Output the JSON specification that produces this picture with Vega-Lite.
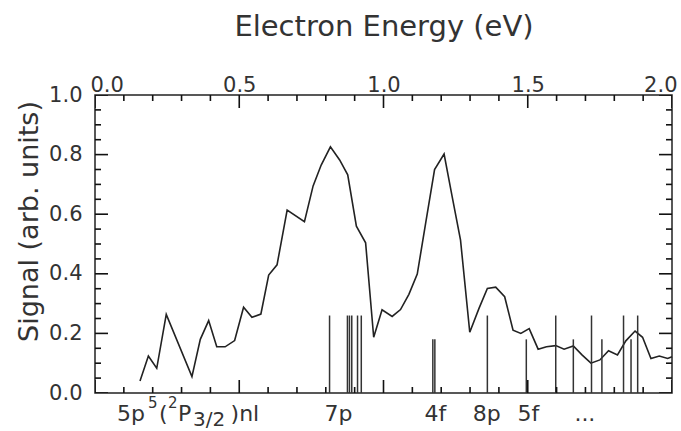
{
  "$schema": "https://vega.github.io/schema/vega-lite/v6.json",
  "width": 577,
  "height": 298,
  "autosize": {"type": "none"},
  "padding": {"left": 95, "top": 95, "right": 9, "bottom": 38},
  "background": "white",
  "config": {
    "view": {"stroke": "#222", "strokeWidth": 1.5},
    "axis": {"domain": false, "ticks": false, "grid": false, "labelColor": "#333", "labelFont": "DejaVu Sans", "titleFont": "DejaVu Sans", "titleColor": "#333", "titleFontWeight": "normal"},
    "text": {"font": "DejaVu Sans", "color": "#333"}
  },
  "datasets": {
    "signal": [
      {"energy": 0.156, "signal": 0.04}, {"energy": 0.185, "signal": 0.124}, {"energy": 0.214, "signal": 0.083},
      {"energy": 0.247, "signal": 0.264}, {"energy": 0.336, "signal": 0.055}, {"energy": 0.365, "signal": 0.18},
      {"energy": 0.394, "signal": 0.243}, {"energy": 0.422, "signal": 0.155}, {"energy": 0.451, "signal": 0.155},
      {"energy": 0.484, "signal": 0.176}, {"energy": 0.515, "signal": 0.288}, {"energy": 0.544, "signal": 0.254},
      {"energy": 0.575, "signal": 0.265}, {"energy": 0.602, "signal": 0.396}, {"energy": 0.631, "signal": 0.43},
      {"energy": 0.666, "signal": 0.614}, {"energy": 0.726, "signal": 0.575}, {"energy": 0.756, "signal": 0.695},
      {"energy": 0.784, "signal": 0.765}, {"energy": 0.816, "signal": 0.826}, {"energy": 0.848, "signal": 0.782},
      {"energy": 0.876, "signal": 0.732}, {"energy": 0.906, "signal": 0.56}, {"energy": 0.938, "signal": 0.504},
      {"energy": 0.966, "signal": 0.187}, {"energy": 0.995, "signal": 0.279}, {"energy": 1.03, "signal": 0.257},
      {"energy": 1.059, "signal": 0.28}, {"energy": 1.088, "signal": 0.331}, {"energy": 1.117, "signal": 0.399},
      {"energy": 1.146, "signal": 0.569}, {"energy": 1.177, "signal": 0.75}, {"energy": 1.21, "signal": 0.802},
      {"energy": 1.238, "signal": 0.659}, {"energy": 1.267, "signal": 0.513}, {"energy": 1.299, "signal": 0.204},
      {"energy": 1.331, "signal": 0.284}, {"energy": 1.36, "signal": 0.351}, {"energy": 1.389, "signal": 0.355},
      {"energy": 1.42, "signal": 0.323}, {"energy": 1.449, "signal": 0.211}, {"energy": 1.476, "signal": 0.2},
      {"energy": 1.505, "signal": 0.216}, {"energy": 1.536, "signal": 0.147}, {"energy": 1.565, "signal": 0.155},
      {"energy": 1.597, "signal": 0.159}, {"energy": 1.626, "signal": 0.147}, {"energy": 1.658, "signal": 0.158},
      {"energy": 1.688, "signal": 0.128}, {"energy": 1.719, "signal": 0.1}, {"energy": 1.75, "signal": 0.111},
      {"energy": 1.78, "signal": 0.142}, {"energy": 1.811, "signal": 0.128}, {"energy": 1.84, "signal": 0.175},
      {"energy": 1.872, "signal": 0.208}, {"energy": 1.898, "signal": 0.187}, {"energy": 1.927, "signal": 0.116},
      {"energy": 1.956, "signal": 0.124}, {"energy": 1.985, "signal": 0.116}, {"energy": 2.0, "signal": 0.122}
    ],
    "levels": [
      {"energy": 0.813, "strength": 0.26}, {"energy": 0.875, "strength": 0.26}, {"energy": 0.882, "strength": 0.26},
      {"energy": 0.89, "strength": 0.26}, {"energy": 0.91, "strength": 0.26}, {"energy": 0.923, "strength": 0.26},
      {"energy": 1.171, "strength": 0.18}, {"energy": 1.178, "strength": 0.18}, {"energy": 1.36, "strength": 0.26},
      {"energy": 1.495, "strength": 0.18}, {"energy": 1.597, "strength": 0.26}, {"energy": 1.658, "strength": 0.18},
      {"energy": 1.721, "strength": 0.26}, {"energy": 1.757, "strength": 0.18}, {"energy": 1.832, "strength": 0.26},
      {"energy": 1.858, "strength": 0.18}, {"energy": 1.881, "strength": 0.26}
    ],
    "xTicks": [
      {"energy": 0, "kind": "major"}, {"energy": 0.1, "kind": "minor"}, {"energy": 0.2, "kind": "minor"},
      {"energy": 0.3, "kind": "minor"}, {"energy": 0.4, "kind": "minor"}, {"energy": 0.5, "kind": "major"},
      {"energy": 0.6, "kind": "minor"}, {"energy": 0.7, "kind": "minor"}, {"energy": 0.8, "kind": "minor"},
      {"energy": 0.9, "kind": "minor"}, {"energy": 1.0, "kind": "major"}, {"energy": 1.1, "kind": "minor"},
      {"energy": 1.2, "kind": "minor"}, {"energy": 1.3, "kind": "minor"}, {"energy": 1.4, "kind": "minor"},
      {"energy": 1.5, "kind": "major"}, {"energy": 1.6, "kind": "minor"}, {"energy": 1.7, "kind": "minor"},
      {"energy": 1.8, "kind": "minor"}, {"energy": 1.9, "kind": "minor"}, {"energy": 2.0, "kind": "major"}
    ],
    "yTicks": [
      {"signal": 0, "kind": "major"}, {"signal": 0.05, "kind": "minor"}, {"signal": 0.1, "kind": "minor"},
      {"signal": 0.15, "kind": "minor"}, {"signal": 0.2, "kind": "major"}, {"signal": 0.25, "kind": "minor"},
      {"signal": 0.3, "kind": "minor"}, {"signal": 0.35, "kind": "minor"}, {"signal": 0.4, "kind": "major"},
      {"signal": 0.45, "kind": "minor"}, {"signal": 0.5, "kind": "minor"}, {"signal": 0.55, "kind": "minor"},
      {"signal": 0.6, "kind": "major"}, {"signal": 0.65, "kind": "minor"}, {"signal": 0.7, "kind": "minor"},
      {"signal": 0.75, "kind": "minor"}, {"signal": 0.8, "kind": "major"}, {"signal": 0.85, "kind": "minor"},
      {"signal": 0.9, "kind": "minor"}, {"signal": 0.95, "kind": "minor"}, {"signal": 1.0, "kind": "major"}
    ],
    "series": [
      {"energy": 0.844, "label": "7p"}, {"energy": 1.18, "label": "4f"}, {"energy": 1.358, "label": "8p"},
      {"energy": 1.502, "label": "5f"}, {"energy": 1.698, "label": "..."}
    ],
    "prefixMain": [
      {"energy": 0.076, "label": "5p"}, {"energy": 0.222, "label": "("}, {"energy": 0.288, "label": "P"}, {"energy": 0.47, "label": ")nl"}
    ],
    "prefixSup": [
      {"energy": 0.184, "label": "5"}, {"energy": 0.253, "label": "2"}
    ],
    "prefixSub": [
      {"energy": 0.34, "label": "3/2"}
    ]
  },
  "layer": [
    {
      "data": {"name": "signal"},
      "mark": {"type": "line", "color": "#222", "strokeWidth": 1.6},
      "encoding": {
        "x": {
          "field": "energy", "type": "quantitative",
          "scale": {"domain": [0, 2], "nice": false, "zero": false},
          "axis": {
            "orient": "top", "title": "Electron Energy (eV)",
            "values": [0, 0.5, 1, 1.5, 2], "format": ".1f",
            "labelFontSize": 21, "labelPadding": 0, "labelFlush": true, "labelFlushOffset": 5,
            "titleFontSize": 29, "titlePadding": 33
          }
        },
        "y": {
          "field": "signal", "type": "quantitative",
          "scale": {"domain": [0, 1], "nice": false},
          "axis": {
            "orient": "left", "title": "Signal (arb. units)",
            "values": [0, 0.2, 0.4, 0.6, 0.8, 1], "format": ".1f",
            "labelFontSize": 21, "labelPadding": 13,
            "titleFontSize": 27, "titlePadding": 5, "titleY": 126
          }
        }
      }
    },
    {
      "data": {"name": "levels"},
      "mark": {"type": "rule", "color": "#333", "strokeWidth": 1.5},
      "encoding": {
        "x": {"field": "energy", "type": "quantitative", "axis": null},
        "y": {"field": "strength", "type": "quantitative", "axis": null},
        "y2": {"datum": 0}
      }
    },
    {
      "data": {"name": "xTicks"},
      "mark": {"type": "tick", "orient": "vertical", "clip": true, "color": "#111", "opacity": 1, "thickness": 1.6},
      "encoding": {
        "x": {"field": "energy", "type": "quantitative", "axis": null},
        "y": {"datum": 1, "type": "quantitative", "axis": null},
        "size": {"field": "kind", "type": "nominal", "scale": {"domain": ["major", "minor"], "range": [26, 12]}, "legend": null}
      }
    },
    {
      "data": {"name": "xTicks"},
      "mark": {"type": "tick", "orient": "vertical", "clip": true, "color": "#111", "opacity": 1, "thickness": 1.6},
      "encoding": {
        "x": {"field": "energy", "type": "quantitative", "axis": null},
        "y": {"datum": 0, "type": "quantitative", "axis": null},
        "size": {"field": "kind", "type": "nominal", "scale": {"domain": ["major", "minor"], "range": [26, 12]}, "legend": null}
      }
    },
    {
      "data": {"name": "yTicks"},
      "mark": {"type": "tick", "orient": "horizontal", "clip": true, "color": "#111", "opacity": 1, "thickness": 1.6},
      "encoding": {
        "x": {"datum": 0, "type": "quantitative", "axis": null},
        "y": {"field": "signal", "type": "quantitative", "axis": null},
        "size": {"field": "kind", "type": "nominal", "scale": {"domain": ["major", "minor"], "range": [26, 12]}, "legend": null}
      }
    },
    {
      "data": {"name": "yTicks"},
      "mark": {"type": "tick", "orient": "horizontal", "clip": true, "color": "#111", "opacity": 1, "thickness": 1.6},
      "encoding": {
        "x": {"datum": 2, "type": "quantitative", "axis": null},
        "y": {"field": "signal", "type": "quantitative", "axis": null},
        "size": {"field": "kind", "type": "nominal", "scale": {"domain": ["major", "minor"], "range": [26, 12]}, "legend": null}
      }
    },
    {
      "data": {"name": "series"},
      "mark": {"type": "text", "fontSize": 22, "align": "center", "baseline": "alphabetic", "dy": 28},
      "encoding": {
        "x": {"field": "energy", "type": "quantitative", "axis": null},
        "y": {"datum": 0, "type": "quantitative", "axis": null},
        "text": {"field": "label"}
      }
    },
    {
      "data": {"name": "prefixMain"},
      "mark": {"type": "text", "fontSize": 22, "align": "left", "baseline": "alphabetic", "dy": 28},
      "encoding": {
        "x": {"field": "energy", "type": "quantitative", "axis": null},
        "y": {"datum": 0, "type": "quantitative", "axis": null},
        "text": {"field": "label"}
      }
    },
    {
      "data": {"name": "prefixSup"},
      "mark": {"type": "text", "fontSize": 15, "align": "left", "baseline": "alphabetic", "dy": 15},
      "encoding": {
        "x": {"field": "energy", "type": "quantitative", "axis": null},
        "y": {"datum": 0, "type": "quantitative", "axis": null},
        "text": {"field": "label"}
      }
    },
    {
      "data": {"name": "prefixSub"},
      "mark": {"type": "text", "fontSize": 20, "align": "left", "baseline": "alphabetic", "dy": 33},
      "encoding": {
        "x": {"field": "energy", "type": "quantitative", "axis": null},
        "y": {"datum": 0, "type": "quantitative", "axis": null},
        "text": {"field": "label"}
      }
    }
  ],
  "resolve": {"axis": {"x": "independent", "y": "independent"}}
}
